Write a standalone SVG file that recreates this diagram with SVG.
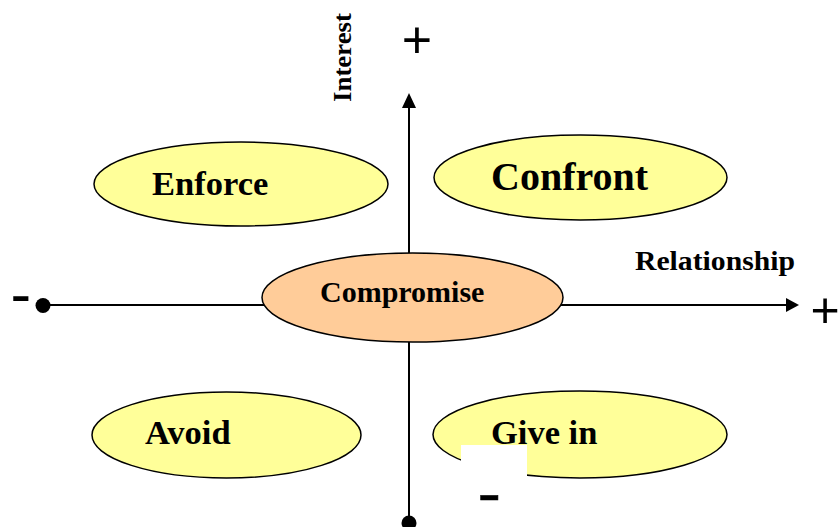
<svg xmlns="http://www.w3.org/2000/svg" width="838" height="527" viewBox="0 0 838 527">
  <style>
    .axis { stroke: #000; stroke-width: 2; fill: none; }
    .head { fill: #000; }
    .oval { stroke: #000; stroke-width: 1.5; }
    .style-a { fill: #FFFF99; }
    .style-b { fill: #FFCC99; }
    .lbl { font-family: "Liberation Serif", "Times New Roman", serif; font-weight: bold; fill: #000; }
    .sign { font-family: "Liberation Sans", Arial, sans-serif; fill: #000; }
  </style>

  <g id="connectors">
    <!-- horizontal axis: Relationship -->
    <line class="axis" x1="43" y1="305" x2="787" y2="305"/>
    <polygon class="head" points="786,298 799,305 786,312"/>
    <circle class="head" cx="43" cy="305.5" r="7.5"/>
    <!-- vertical axis: Interest -->
    <line class="axis" x1="409" y1="523" x2="409" y2="107"/>
    <polygon class="head" points="402,108 409,93 416,108"/>
    <circle class="head" cx="409" cy="523" r="7.5"/>
  </g>

  <g id="axis-labels">
    <text class="lbl" font-size="27.5" x="635" y="270" textLength="160" lengthAdjust="spacingAndGlyphs">Relationship</text>
    <text class="lbl" font-size="26" transform="translate(351,102) rotate(-90)" textLength="89" lengthAdjust="spacingAndGlyphs">Interest</text>
    <text class="sign" font-size="52" x="417" y="58" text-anchor="middle">+</text>
    <text class="sign" font-size="50" x="825" y="327" text-anchor="middle">+</text>
    <text class="sign" font-size="62" x="10.5" y="314.5">-</text>
  </g>

  <g id="enforce">
    <ellipse class="oval style-a" cx="241" cy="184" rx="147" ry="42"/>
    <text class="lbl" font-size="34.5" x="152" y="195">Enforce</text>
  </g>

  <g id="confront">
    <ellipse class="oval style-a" cx="580.5" cy="177.5" rx="146.5" ry="42.5"/>
    <text class="lbl" font-size="40" x="491" y="190">Confront</text>
  </g>

  <g id="compromise">
    <ellipse class="oval style-b" cx="412.5" cy="297.5" rx="150.5" ry="44.5"/>
    <text class="lbl" font-size="30" x="320" y="302">Compromise</text>
  </g>

  <g id="avoid">
    <ellipse class="oval style-a" cx="226.5" cy="435" rx="134.5" ry="43"/>
    <text class="lbl" font-size="34.5" x="145" y="444">Avoid</text>
  </g>

  <g id="give-in">
    <ellipse class="oval style-a" cx="580" cy="434.5" rx="147" ry="43.5"/>
    <text class="lbl" font-size="34.5" x="491" y="444">Give in</text>
    <rect x="461" y="445" width="66" height="32" fill="#fff"/>
    <text class="sign" font-size="60" stroke="#000" stroke-width="0.5" transform="translate(477.6,512.8) scale(1.18,1)">-</text>
  </g>
</svg>
